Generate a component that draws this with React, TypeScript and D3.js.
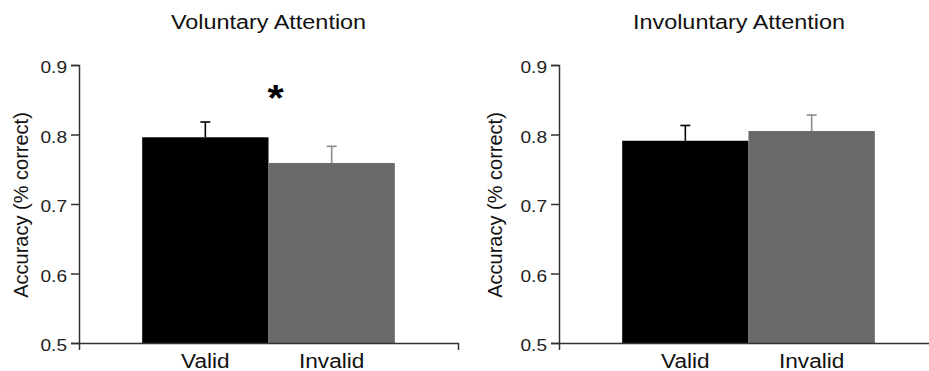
import React, { useEffect, useRef } from "react";
import * as d3 from "d3";

// data
const conditions = ["Valid", "Invalid"];
const voluntaryMeans = [0.796, 0.759];
const voluntaryErrors = [0.022, 0.024];
const involuntaryMeans = [0.791, 0.805];
const involuntaryErrors = [0.022, 0.023];
const yTicks = [0.5, 0.6, 0.7, 0.8, 0.9];

const barColors = ["#000000", "#6a6a6a"];
const errColors = ["#000000", "#8c8c8c"];

export default function App() {
  const ref = useRef<SVGSVGElement | null>(null);

  useEffect(() => {
    draw();
  }, []);

  let draw = () => {
    let svg = d3.select(ref.current);
    svg.selectAll("*").remove();

    let font = "'Liberation Sans', Arial, Helvetica, sans-serif";
    let sx = 1.16; // the figure's text is a bit wider than normal

    let yScale = d3.scaleLinear().domain([0.5, 0.9]).range([343, 65]);
    let xScale = d3
      .scaleBand()
      .domain(conditions)
      .range([0, 379])
      .paddingInner(0)
      .paddingOuter(0.5);

    let panels = [
      {
        title: "Voluntary Attention",
        means: voluntaryMeans,
        errors: voluntaryErrors,
        left: 79,
        titleX: 268.5,
        labelX: 27.5,
        star: true,
      },
      {
        title: "Involuntary Attention",
        means: involuntaryMeans,
        errors: involuntaryErrors,
        left: 559,
        titleX: 739,
        labelX: 501.5,
        star: false,
      },
    ];

    panels.forEach((p) => {
      let g = svg.append("g").attr("transform", `translate(${p.left},0)`);

      // bars
      g.selectAll(".bar")
        .data(conditions)
        .enter()
        .append("rect")
        .attr("x", (d) => xScale(d)!)
        .attr("y", (d, i) => yScale(p.means[i]))
        .attr("width", xScale.bandwidth())
        .attr("height", (d, i) => yScale(0.5) - yScale(p.means[i]))
        .attr("fill", (d, i) => barColors[i]);

      // error bars (upper only)
      conditions.forEach((c, i) => {
        let cx = xScale(c)! + xScale.bandwidth() / 2;
        let top = yScale(p.means[i] + p.errors[i]);
        g.append("line")
          .attr("x1", cx)
          .attr("x2", cx)
          .attr("y1", yScale(p.means[i]))
          .attr("y2", top)
          .attr("stroke", errColors[i])
          .attr("stroke-width", 1.6);
        g.append("line")
          .attr("x1", cx - 5)
          .attr("x2", cx + 5)
          .attr("y1", top)
          .attr("y2", top)
          .attr("stroke", errColors[i])
          .attr("stroke-width", 1.6);
      });

      // y axis
      let yAxis = g
        .append("g")
        .call(
          d3
            .axisLeft(yScale)
            .tickValues(yTicks)
            .tickFormat(d3.format(".1f"))
            .tickSize(8)
            .tickSizeOuter(8)
        );
      yAxis.select(".domain").attr("stroke", "#333").attr("stroke-width", 1.5);
      yAxis.selectAll(".tick line").attr("stroke", "#333").attr("stroke-width", 1.5);
      yAxis
        .selectAll(".tick text")
        .attr("x", -12 / sx)
        .attr("dy", "0.48em")
        .attr("transform", `scale(${sx},1)`)
        .attr("fill", "#222")
        .style("font-family", font)
        .style("font-size", "16.5px");

      // x axis
      let xAxis = g
        .append("g")
        .attr("transform", `translate(0,${yScale(0.5)})`)
        .call(d3.axisBottom(xScale).tickSize(0).tickSizeOuter(7));
      xAxis.select(".domain").attr("stroke", "#333").attr("stroke-width", 1.5);
      xAxis
        .selectAll(".tick text")
        .attr("y", 25)
        .attr("dy", 0)
        .attr("transform", `scale(${sx},1)`)
        .attr("fill", "#111")
        .style("font-family", font)
        .style("font-size", "19.5px");

      // title
      svg
        .append("text")
        .attr("transform", `translate(${p.titleX},29) scale(${sx},1)`)
        .attr("text-anchor", "middle")
        .attr("fill", "#111")
        .style("font-family", font)
        .style("font-size", "20.2px")
        .text(p.title);

      // y label
      svg
        .append("text")
        .attr("transform", `translate(${p.labelX},205) rotate(-90)`)
        .attr("text-anchor", "middle")
        .attr("fill", "#111")
        .style("font-family", font)
        .style("font-size", "20px")
        .text("Accuracy (% correct)");

      if (p.star) {
        let sxStar = p.left + xScale("Invalid")!;
        svg
          .append("text")
          .attr("transform", `translate(${sxStar + 7},111) scale(${sx},1)`)
          .attr("text-anchor", "middle")
          .attr("fill", "#000")
          .style("font-family", font)
          .style("font-weight", "bold")
          .style("font-size", "36px")
          .text("*");
      }
    });
  };

  return (
    <svg
      ref={ref}
      width={929}
      height={371}
      style={{ position: "absolute", left: 0, top: 0, background: "#fff" }}
    ></svg>
  );
}
